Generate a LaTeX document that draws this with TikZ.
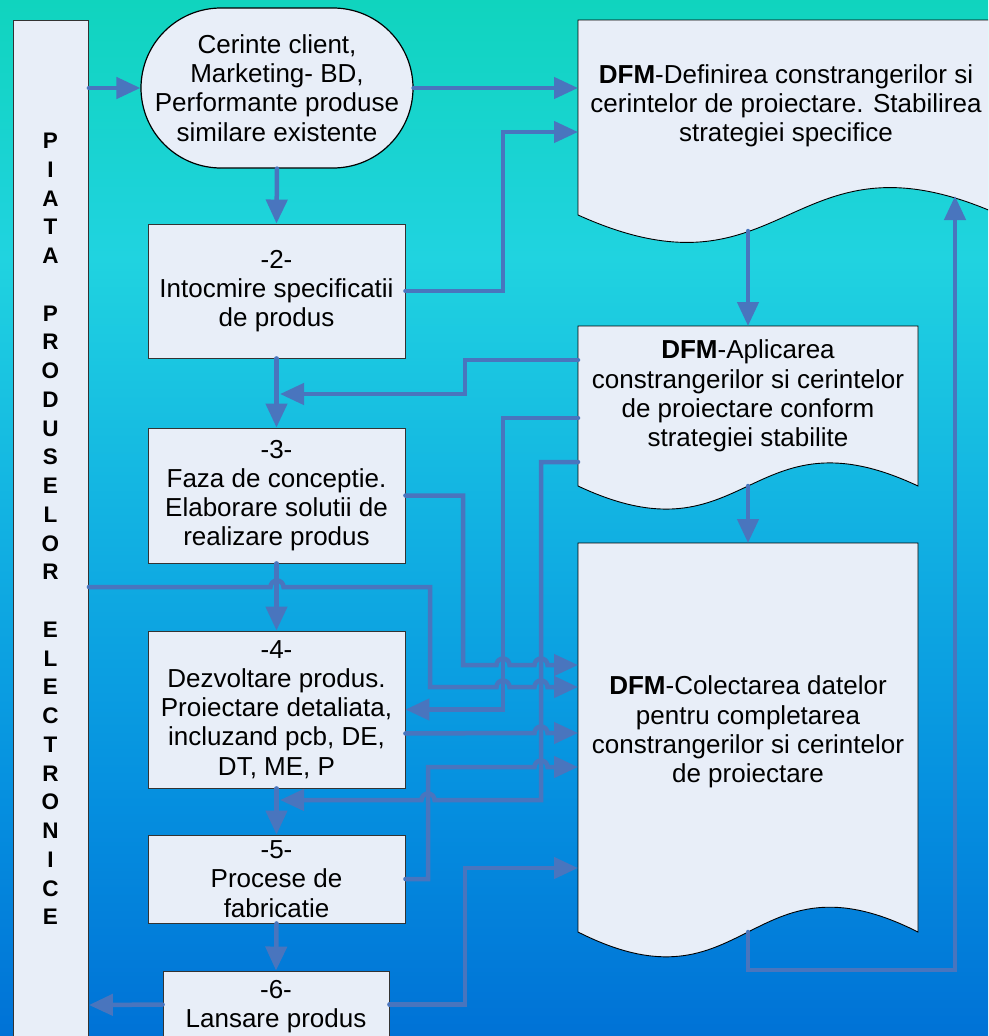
\documentclass[tikz,border=0pt]{standalone}
\usepackage{fontspec}
\setmainfont{Liberation Sans}
\usetikzlibrary{arrows.meta,calc}
\definecolor{boxfill}{RGB}{232,238,248}
\definecolor{linec}{RGB}{73,117,190}
\definecolor{bgA}{RGB}{16,212,190}
\definecolor{bgB}{RGB}{32,211,224}
\definecolor{bgC}{RGB}{18,178,226}
\definecolor{bgD}{RGB}{6,146,224}
\definecolor{bgE}{RGB}{0,114,214}
\pgfdeclareverticalshading{bgshade}{100bp}{color(0bp)=(bgE); color(25bp)=(bgE); color(37.5bp)=(bgD); color(50bp)=(bgC); color(62.5bp)=(bgB); color(75bp)=(bgA); color(100bp)=(bgA)}
\newcommand\dfmfont{\fontsize{26}{29.2}\selectfont}
\newcommand\colfont{\fontsize{22.5}{28.75}\selectfont\bfseries}
\begin{document}
\begin{tikzpicture}[x=1pt,y=-1pt,
  bx/.style={draw=black!80, line width=0.9pt, fill=boxfill, align=center, inner sep=0pt, font=\dfmfont},
  doc/.style={draw=black, line width=0.9pt, fill=boxfill},
  txt/.style={align=center, inner sep=0pt, font=\dfmfont},
  conn/.style={draw=linec, line width=4.5pt, line cap=round, line join=miter},
  arr/.style={conn, -{Triangle[length=24pt,width=21pt]}}
]
\useasboundingbox (0,0) rectangle (988,1036);
\clip (0,0) rectangle (988,1036);
\shade[shading=bgshade] (0,0) rectangle (988,1036);

% left column
\node[bx, anchor=north west, minimum width=75pt, minimum height=1040pt] (col) at (13,20) {};
\node[align=center, inner sep=0pt, font=\colfont] (colt) at (50.5,529)
 {P\\I\\A\\T\\A\\[28.75pt]P\\R\\O\\D\\U\\S\\E\\L\\O\\R\\[28.75pt]E\\L\\E\\C\\T\\R\\O\\N\\I\\C\\E};

% left chain
\node[bx, draw=black, line width=1.2pt, rounded corners=80pt, minimum width=272pt, minimum height=160pt] (oval) at (277,88)
 {Cerinte client,\\Marketing- BD,\\Performante produse\\similare existente};
\node[bx, minimum width=257pt, minimum height=134pt] (b2) at (276.5,291) {-2-\\Intocmire specificatii\\de produs};
\node[bx, minimum width=257pt, minimum height=135pt] (b3) at (276.5,495.5) {-3-\\Faza de conceptie.\\Elaborare solutii de\\realizare produs};
\node[bx, minimum width=257pt, minimum height=157pt] (b4) at (276.5,709.5) {-4-\\Dezvoltare produs.\\Proiectare detaliata,\\incluzand pcb, DE,\\DT, ME, P};
\node[bx, minimum width=257pt, minimum height=88pt] (b5) at (276.5,879) {-5-\\Procese de\\fabricatie};
\node[bx, minimum width=226pt, minimum height=89pt] (b6) at (276,1015.5) {};
\node[txt] (b6t) at (276,1007) {-6-\\Lansare produs};

% document shapes
\draw[doc] (578,20) -- (1000,20) -- (1000,215) .. controls (788,120) and (788,310) .. (578,215) -- cycle;
\draw[doc] (578,326) -- (918,326) -- (918,486) .. controls (748,406) and (748,566) .. (578,486) -- cycle;
\draw[doc] (578,543) -- (918,543) -- (918,932) .. controls (748,846) and (748,1018) .. (578,932) -- cycle;
\node[txt] (d1) at (786,106) {\textbf{DFM}-Definirea constrangerilor si\\cerintelor de proiectare. Stabilirea\\strategiei specifice};
\node[txt] (d2) at (748,396) {\textbf{DFM}-Aplicarea\\constrangerilor si cerintelor\\de proiectare conform\\strategiei stabilite};
\node[txt] (d3) at (748,732) {\textbf{DFM}-Colectarea datelor\\pentru completarea\\constrangerilor si cerintelor\\de proiectare};

% connection points on document shapes
\coordinate (d1a) at (578,88);
\coordinate (d1b) at (578,132);
\coordinate (d1s) at (748,231);
\coordinate (d1r) at (955,196);
\coordinate (d2n) at (748,326);
\coordinate (d2a) at (578,360);
\coordinate (d2b) at (578,418);
\coordinate (d2c) at (578,462);
\coordinate (d2s) at (748,486);
\coordinate (d3n) at (748,543);
\coordinate (d3a) at (578,665);
\coordinate (d3b) at (578,687);
\coordinate (d3c) at (578,733);
\coordinate (d3d) at (578,767);
\coordinate (d3e) at (578,868);
\coordinate (d3s) at (748,932);
\coordinate (j1) at (280,394);
\coordinate (j2) at (280,800);

% connectors
\draw[arr] (col.east |- oval.west) -- (oval.west);
\draw[arr] (oval.east) -- (d1a);
\draw[arr] (b2.east) -| (503,132) -- (d1b);
\draw[arr] (oval.south) -- (b2.north);
\draw[arr] (b2.south) -- (b3.north);
\draw[arr] (b3.south) -- (b4.north);
\draw[arr] (b4.south) -- (b5.north);
\draw[arr] (b5.south) -- (b6.north);
\draw[arr] ($(b6.north west)+(0,34)$) -- ($(col.north east)+(0,985)$);
\draw[arr] (d1s) -- (d2n);
\draw[arr] (d2s) -- (d3n);
\draw[arr] (d3s) -- (748,970) -- (955,970) -- (d1r);
\draw[arr] (d2a) -| (465,394) -- (j1);
\draw[arr] (d2b) -| (503,709.5) -- (b4.east);
\draw[arr] (d2c) -| (541,800) -- (434.5,800) arc(0:-180:6.5) -- (j2);
\draw[arr] (b3.east) -| (463,665) -- (496.5,665) arc(180:360:6.5) -- (534.5,665) arc(180:360:6.5) -- (d3a);
\draw[arr] ($(col.north east)+(0,567)$) -- (270.5,587) arc(180:360:6.5) -- (430,587) -- (430,687) -- (496.5,687) arc(180:360:6.5) -- (534.5,687) arc(180:360:6.5) -- (d3b);
\draw[arr] ($(b4.south east)+(0,-55)$) -- (534.5,733) arc(180:360:6.5) -- (d3c);
\draw[arr] (b5.east) -| (428,767) -- (534.5,767) arc(180:360:6.5) -- (d3d);
\draw[arr] ($(b6.north east)+(0,34)$) -| (465,868) -- (d3e);
\end{tikzpicture}
\end{document}
